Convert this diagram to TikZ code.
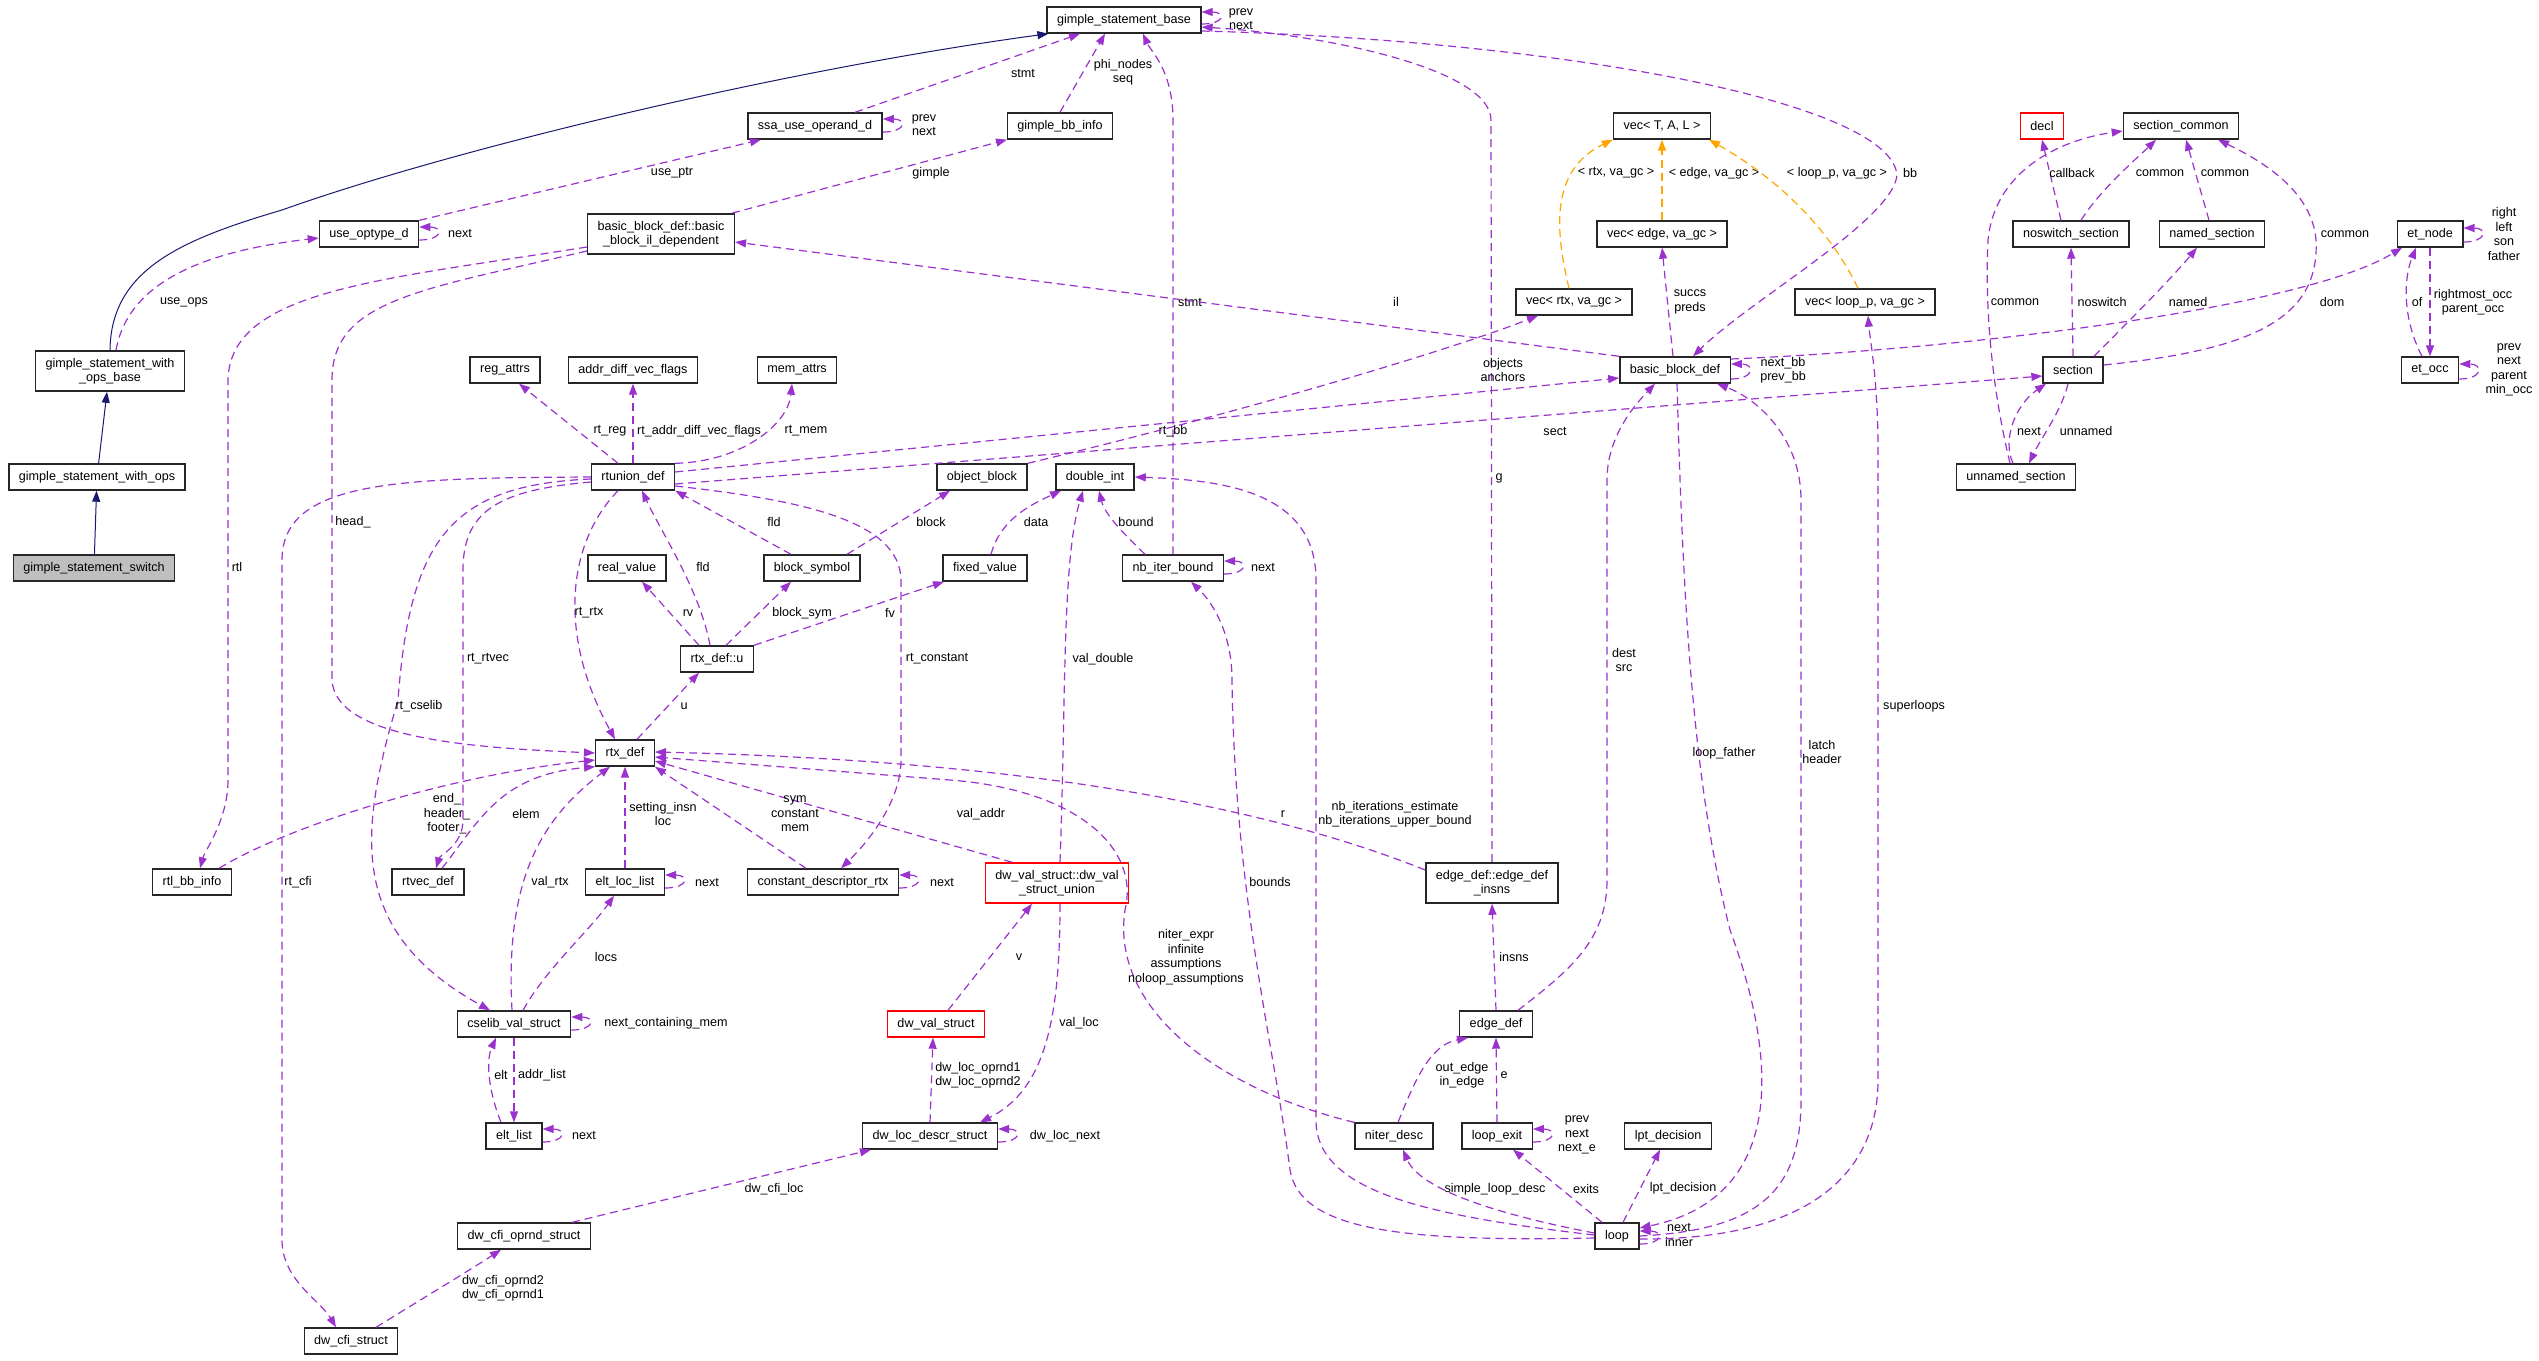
\documentclass[tikz,border=0pt]{standalone}
\usepackage{fontspec}
\setmainfont{Liberation Sans}
\usetikzlibrary{arrows.meta}
\definecolor{usecol}{HTML}{9A32CD}
\definecolor{inhcol}{HTML}{191970}
\definecolor{tmplcol}{HTML}{FFA500}
\definecolor{curcol}{HTML}{BFBFBF}
\newcommand{\graphfont}{\fontsize{12.6}{14.5}\selectfont}

\begin{document}
\begin{tikzpicture}[x=1pt,y=-1pt,>={Triangle[length=11pt,width=8pt]},
    classbox/.style={draw=black!85, line width=1.4pt, fill=white, font=\graphfont, align=center, inner xsep=10pt, inner ysep=7pt, minimum height=26pt},
    nodoc/.style={draw=red},
    usage/.style={->, draw=usecol, line width=1.2pt, dash pattern=on 8pt off 5pt},
    inh/.style={->, draw=inhcol, line width=1pt},
    tmpl/.style={->, draw=tmplcol, line width=1.2pt, dash pattern=on 8pt off 5pt},
    lbl/.style={font=\graphfont, align=center, inner sep=0pt},
    selfloop/.style={out=0, in=0, distance=24pt}]
        \useasboundingbox (0,0) rectangle (2539,1360);

        \node[classbox] (stmtbase) at (1124,20) {gimple\_statement\_base};
        \node[classbox] (ssause) at (815,126) {ssa\_use\_operand\_d};
        \node[classbox] (bbinfo) at (1060,126) {gimple\_bb\_info};
        \node[classbox] (vectal) at (1662,126) {vec< T, A, L >};
        \node[classbox, nodoc] (decl) at (2042,126) {decl};
        \node[classbox] (seccommon) at (2181,126) {section\_common};
        \node[classbox] (useop) at (369,234) {use\_optype\_d};
        \node[classbox] (bbil) at (661,234) {basic\_block\_def::basic\\\_block\_il\_dependent};
        \node[classbox] (vecedge) at (1662,234) {vec< edge, va\_gc >};
        \node[classbox] (noswitch) at (2071,234) {noswitch\_section};
        \node[classbox] (named) at (2212,234) {named\_section};
        \node[classbox] (etnode) at (2430,234) {et\_node};
        \node[classbox] (vecrtx) at (1574,302) {vec< rtx, va\_gc >};
        \node[classbox] (veclp) at (1865,302) {vec< loop\_p, va\_gc >};
        \node[classbox] (opsbase) at (110,371) {gimple\_statement\_with\\\_ops\_base};
        \node[classbox] (regattrs) at (505,370) {reg\_attrs};
        \node[classbox] (addrdiff) at (633,370) {addr\_diff\_vec\_flags};
        \node[classbox] (memattrs) at (797,370) {mem\_attrs};
        \node[classbox] (bbdef) at (1675,370) {basic\_block\_def};
        \node[classbox] (section) at (2073,370) {section};
        \node[classbox] (etocc) at (2430,370) {et\_occ};
        \node[classbox] (withops) at (97,477) {gimple\_statement\_with\_ops};
        \node[classbox] (rtunion) at (633,477) {rtunion\_def};
        \node[classbox] (objblock) at (982,477) {object\_block};
        \node[classbox] (dint) at (1095,477) {double\_int};
        \node[classbox] (unnamed) at (2016,477) {unnamed\_section};
        \node[classbox, fill=curcol] (switch) at (94,568) {gimple\_statement\_switch};
        \node[classbox] (realval) at (627,568) {real\_value};
        \node[classbox] (blocksym) at (812,568) {block\_symbol};
        \node[classbox] (fixedval) at (985,568) {fixed\_value};
        \node[classbox] (nbiter) at (1173,568) {nb\_iter\_bound};
        \node[classbox] (rtxu) at (717,659) {rtx\_def::u};
        \node[classbox] (rtx) at (625,753) {rtx\_def};
        \node[classbox] (rtlbb) at (192,882) {rtl\_bb\_info};
        \node[classbox] (rtvec) at (428,882) {rtvec\_def};
        \node[classbox] (eltloc) at (625,882) {elt\_loc\_list};
        \node[classbox] (cdr) at (823,882) {constant\_descriptor\_rtx};
        \node[classbox, nodoc] (dwunion) at (1057,883) {dw\_val\_struct::dw\_val\\\_struct\_union};
        \node[classbox] (edgeinsns) at (1492,883) {edge\_def::edge\_def\\\_insns};
        \node[classbox] (cselib) at (514,1024) {cselib\_val\_struct};
        \node[classbox, nodoc] (dwval) at (936,1024) {dw\_val\_struct};
        \node[classbox] (edgedef) at (1496,1024) {edge\_def};
        \node[classbox] (eltlist) at (514,1136) {elt\_list};
        \node[classbox] (dwloc) at (930,1136) {dw\_loc\_descr\_struct};
        \node[classbox] (niter) at (1394,1136) {niter\_desc};
        \node[classbox] (loopexit) at (1497,1136) {loop\_exit};
        \node[classbox] (lpt) at (1668,1136) {lpt\_decision};
        \node[classbox] (cfioprnd) at (524,1236) {dw\_cfi\_oprnd\_struct};
        \node[classbox] (loop) at (1617,1236) {loop};
        \node[classbox] (cfi) at (351,1341) {dw\_cfi\_struct};

        \draw[inh] (switch) -- (withops);
        \draw[inh] (withops) -- ([xshift=-3pt]opsbase.south);
        \draw[inh] (opsbase.north) .. controls (111,270) and (180,240) .. (282,210) .. controls (450,150) and (780,70) .. ([xshift=2pt]stmtbase.south west);

        \draw[usage] ([yshift=-4pt]stmtbase.east) to[selfloop] ([yshift=8pt]stmtbase.east) node[lbl] at (1241,19) {prev\\next};
        \draw[usage] ([yshift=-6pt]ssause.east) to[selfloop] ([yshift=7pt]ssause.east) node[lbl] at (924,125) {prev\\next};
        \draw[usage] ([xshift=40pt]ssause.north) -- ([xshift=-44pt]stmtbase.south) node[lbl] at (1023,73) {stmt};
        \draw[usage] (bbinfo.north) -- ([xshift=-19pt]stmtbase.south) node[lbl] at (1123,72) {phi\_nodes\\seq};
        \draw[usage] (nbiter.north) -- (1173,120) .. controls (1173,70) and (1150,50) .. ([xshift=19pt]stmtbase.south) node[lbl] at (1190,302) {stmt};
        \draw[usage] (edgeinsns.north) -- (1491,120) .. controls (1491,70) and (1330,35) .. ([yshift=-7pt]stmtbase.east) node[lbl] at (1499,478) {g};
        \draw[usage] ([yshift=-11pt]stmtbase.east) .. controls (1550,40) and (1890,100) .. (1897,175) .. controls (1893,220) and (1750,300) .. ([xshift=18pt]bbdef.north) node[lbl] at (1910,173) {bb};
        \draw[usage] ([yshift=-6pt]useop.east) to[selfloop] ([yshift=7pt]useop.east) node[lbl] at (460,233) {next};
        \draw[usage] (useop.north east) -- ([xshift=-54pt]ssause.south) node[lbl] at (672,173) {use\_ptr};
        \draw[usage] ([xshift=6pt]opsbase.north) .. controls (125,300) and (170,255) .. ([yshift=-4pt]useop.west) node[lbl] at (184,302) {use\_ops};
        \draw[usage] ([xshift=71pt]bbil.north) -- ([xshift=-53pt]bbinfo.south) node[lbl] at (931,173) {gimple};
        \draw[usage] (bbdef.north west) -- ([yshift=-8pt]bbil.east) node[lbl] at (1396,302) {il};
        \draw[usage] ([yshift=-13pt]bbil.west) .. controls (380,280) and (230,290) .. (228,380) -- (228,780) .. controls (228,820) and (205,850) .. ([xshift=8pt]rtlbb.north) node[lbl] at (237,567) {rtl};
        \draw[usage] ([yshift=-17pt]bbil.west) .. controls (420,290) and (332,300) .. (332,380) -- (332,680) .. controls (335,740) and (480,748) .. (rtx.west) node[lbl] at (353,522) {head\_};
        \draw[usage] ([xshift=27pt]rtlbb.north) .. controls (290,825) and (450,775) .. ([yshift=-7pt]rtx.west) node[lbl] at (447,814) {end\_\\header\_\\footer\_};

        \draw[usage] ([xshift=-15pt]rtunion.north) -- ([xshift=14pt]regattrs.south) node[lbl] at (610,431) {rt\_reg};
        \draw[usage] (rtunion.north) -- (addrdiff.south) node[lbl] at (699,431) {rt\_addr\_diff\_vec\_flags};
        \draw[usage] (rtunion.north east) .. controls (740,462) and (788,425) .. ([xshift=-5pt]memattrs.south) node[lbl] at (806,431) {rt\_mem};
        \draw[usage] ([yshift=5pt]rtunion.east) -- ([yshift=-8pt]bbdef.west) node[lbl] at (1173,431) {rt\_bb};
        \draw[usage] ([yshift=-7pt]rtunion.east) -- ([yshift=-6pt]section.west) node[lbl] at (1555,431) {sect};
        \draw[usage] ([xshift=-15pt]rtunion.south) .. controls (570,540) and (555,630) .. ([xshift=-10pt]rtx.north) node[lbl] at (589,613) {rt\_rtx};
        \draw[usage] ([yshift=-5pt]rtunion.west) .. controls (500,490) and (463,510) .. (463,570) -- (463,820) .. controls (463,845) and (440,855) .. ([xshift=8pt]rtvec.north) node[lbl] at (488,659) {rt\_rtvec};
        \draw[usage] ([yshift=-2pt]rtunion.west) .. controls (450,485) and (410,540) .. (398,700) .. controls (360,830) and (345,930) .. ([xshift=-24pt]cselib.north) node[lbl] at (419,706) {rt\_cselib};
        \draw[usage] (rtunion.west) .. controls (400,478) and (282,480) .. (282,560) -- (282,1240) .. controls (282,1280) and (320,1300) .. ([xshift=-15pt]cfi.north) node[lbl] at (298,882) {rt\_cfi};
        \draw[usage] ([yshift=-9pt]rtunion.east) .. controls (800,500) and (900,520) .. (901,580) -- (901,760) .. controls (901,800) and (870,840) .. ([xshift=18pt]cdr.north) node[lbl] at (937,659) {rt\_constant};

        \draw[usage] ([xshift=-7pt]rtxu.north) .. controls (700,590) and (660,530) .. ([xshift=9pt]rtunion.south) node[lbl] at (703,567) {fld};
        \draw[usage] ([xshift=-21pt]blocksym.north) -- (rtunion.south east) node[lbl] at (774,522) {fld};
        \draw[usage] ([xshift=-18pt]rtxu.north) -- ([xshift=15pt]realval.south) node[lbl] at (688,613) {rv};
        \draw[usage] ([xshift=9pt]rtxu.north) -- ([xshift=-21pt]blocksym.south) node[lbl] at (802,613) {block\_sym};
        \draw[usage] (rtxu.north east) -- ([xshift=-41pt]fixedval.south) node[lbl] at (890,613) {fv};
        \draw[usage] ([xshift=35pt]blocksym.north) -- ([xshift=-32pt]objblock.south) node[lbl] at (931,522) {block};
        \draw[usage] ([xshift=6pt]fixedval.north) .. controls (1000,520) and (1030,505) .. ([xshift=-34pt]dint.south) node[lbl] at (1036,522) {data};
        \draw[usage] ([xshift=-28pt]nbiter.north) .. controls (1125,535) and (1105,515) .. ([xshift=4pt]dint.south) node[lbl] at (1136,522) {bound};
        \draw[usage] ([yshift=-6pt]nbiter.east) to[selfloop] ([yshift=7pt]nbiter.east) node[lbl] at (1263,567) {next};
        \draw[usage] ([xshift=12pt]rtx.north) -- ([xshift=-18pt]rtxu.south) node[lbl] at (684,706) {u};
        \draw[usage] (objblock.north east) .. controls (1250,410) and (1450,350) .. ([xshift=-36pt]vecrtx.south) node[lbl] at (1503,370) {objects\\anchors};

        \draw[tmpl] ([xshift=-5pt]vecrtx.north) .. controls (1555,230) and (1550,170) .. (vectal.south west) node[lbl] at (1616,173) {< rtx, va\_gc >};
        \draw[tmpl] (vecedge.north) -- (vectal.south) node[lbl] at (1714,173) {< edge, va\_gc >};
        \draw[tmpl] ([xshift=-7pt]veclp.north) .. controls (1830,230) and (1780,180) .. ([xshift=47pt]vectal.south) node[lbl] at (1837,173) {< loop\_p, va\_gc >};

        \draw[usage] ([xshift=-2pt]bbdef.north) -- (vecedge.south) node[lbl] at (1690,302) {succs\\preds};
        \draw[usage] ([yshift=-9pt]bbdef.east) to[selfloop] ([yshift=6pt]bbdef.east) node[lbl] at (1783,370) {next\_bb\\prev\_bb};
        \draw[usage] ([yshift=11pt]bbdef.east) .. controls (1950,350) and (2300,310) .. ([xshift=-28pt]etnode.south) node[lbl] at (2332,302) {dom};
        \draw[usage] ([xshift=2pt]bbdef.south) .. controls (1683,600) and (1692,780) .. (1730,930) .. controls (1785,1080) and (1775,1200) .. ([yshift=8pt]loop.east) node[lbl] at (1724,753) {loop\_father};
        \draw[usage] (loop.east) .. controls (1760,1230) and (1801,1190) .. (1801,1100) -- (1801,500) .. controls (1801,440) and (1760,400) .. ([xshift=42pt]bbdef.south) node[lbl] at (1822,752) {latch\\header};
        \draw[usage] ([yshift=-3pt]loop.east) .. controls (1800,1240) and (1878,1180) .. (1878,1080) -- (1878,450) .. controls (1878,380) and (1870,340) .. ([xshift=3pt]veclp.south) node[lbl] at (1914,706) {superloops};
        \draw[usage] ([yshift=-8pt]loop.east) to[selfloop] ([yshift=5pt]loop.east) node[lbl] at (1679,1235) {next\\inner};
        \draw[usage] ([xshift=6pt]loop.north) -- ([xshift=-8pt]lpt.south) node[lbl] at (1683,1188) {lpt\_decision};
        \draw[usage] ([xshift=-15pt]loop.north) -- ([xshift=16pt]loopexit.south) node[lbl] at (1586,1189) {exits};
        \draw[usage] ([yshift=3pt]loop.west) .. controls (1500,1215) and (1420,1190) .. ([xshift=9pt]niter.south) node[lbl] at (1495,1189) {simple\_loop\_desc};
        \draw[usage] ([yshift=-2pt]loop.west) .. controls (1400,1242) and (1300,1230) .. (1290,1170) .. controls (1275,1050) and (1235,900) .. (1232,680) .. controls (1232,630) and (1210,600) .. ([xshift=18pt]nbiter.south) node[lbl] at (1270,882) {bounds};
        \draw[usage] ([yshift=1pt]loop.west) .. controls (1420,1215) and (1316,1190) .. (1316,1120) -- (1316,580) .. controls (1316,490) and (1220,480) .. (dint.east) node[lbl] at (1395,814) {nb\_iterations\_estimate\\nb\_iterations\_upper\_bound};
        \draw[usage] ([yshift=-6pt]loopexit.east) to[selfloop] ([yshift=7pt]loopexit.east) node[lbl] at (1577,1135) {prev\\next\\next\_e};
        \draw[usage] (loopexit.north) -- (edgedef.south) node[lbl] at (1504,1075) {e};
        \draw[usage] ([xshift=4pt]niter.north) .. controls (1415,1080) and (1430,1045) .. ([xshift=-28pt]edgedef.south) node[lbl] at (1462,1075) {out\_edge\\in\_edge};
        \draw[usage] (niter.north west) .. controls (1220,1090) and (1110,1010) .. (1125,910) .. controls (1140,850) and (1080,790) .. (950,780) -- ([yshift=-4pt]rtx.east) node[lbl] at (1186,957) {niter\_expr\\infinite\\assumptions\\noloop\_assumptions};
        \draw[usage] ([yshift=13pt]edgeinsns.west) .. controls (1250,800) and (1000,760) .. ([yshift=1pt]rtx.east) node[lbl] at (1283,814) {r};
        \draw[usage] ([xshift=22pt]edgedef.north) .. controls (1570,970) and (1607,940) .. (1607,880) -- (1607,480) .. controls (1607,440) and (1630,410) .. ([xshift=-20pt]bbdef.south) node[lbl] at (1624,660) {dest\\src};
        \draw[usage] (edgedef.north) -- (edgeinsns.south) node[lbl] at (1514,957) {insns};

        \draw[usage] ([xshift=-45pt]dwunion.north) -- ([yshift=-8pt]rtx.east) node[lbl] at (981,814) {val\_addr};
        \draw[usage] ([xshift=3pt]dwunion.north) .. controls (1066,700) and (1062,560) .. ([xshift=-12pt]dint.south) node[lbl] at (1103,659) {val\_double};
        \draw[usage] ([xshift=3pt]dwunion.south) .. controls (1060,1020) and (1045,1090) .. ([xshift=50pt]dwloc.north) node[lbl] at (1079,1023) {val\_loc};
        \draw[usage] ([xshift=12pt]dwval.north) -- ([xshift=-25pt]dwunion.south) node[lbl] at (1019,957) {v};
        \draw[usage] (dwloc.north) -- ([xshift=-3pt]dwval.south) node[lbl] at (978,1075) {dw\_loc\_oprnd1\\dw\_loc\_oprnd2};
        \draw[usage] ([yshift=-6pt]dwloc.east) to[selfloop] ([yshift=7pt]dwloc.east) node[lbl] at (1065,1136) {dw\_loc\_next};
        \draw[usage] ([xshift=48pt]cfioprnd.north) -- ([xshift=-59pt]dwloc.south) node[lbl] at (774,1189) {dw\_cfi\_loc};
        \draw[usage] ([xshift=25pt]cfi.north) .. controls (420,1300) and (470,1270) .. ([xshift=-23pt]cfioprnd.south) node[lbl] at (503,1288) {dw\_cfi\_oprnd2\\dw\_cfi\_oprnd1};

        \draw[usage] ([xshift=-17pt]cdr.north) -- (rtx.south east) node[lbl] at (795,814) {sym\\constant\\mem};
        \draw[usage] ([yshift=-6pt]cdr.east) to[selfloop] ([yshift=7pt]cdr.east) node[lbl] at (942,882) {next};
        \draw[usage] (eltloc.north) -- (rtx.south) node[lbl] at (663,814) {setting\_insn\\loc};
        \draw[usage] ([yshift=-6pt]eltloc.east) to[selfloop] ([yshift=7pt]eltloc.east) node[lbl] at (707,882) {next};
        \draw[usage] ([xshift=9pt]cselib.north) .. controls (545,970) and (590,930) .. ([xshift=-11pt]eltloc.south) node[lbl] at (606,957) {locs};
        \draw[usage] ([xshift=-2pt]cselib.north) .. controls (505,880) and (540,820) .. ([xshift=-15pt]rtx.south) node[lbl] at (550,882) {val\_rtx};
        \draw[usage] ([yshift=-6pt]cselib.east) to[selfloop] ([yshift=7pt]cselib.east) node[lbl] at (666,1023) {next\_containing\_mem};
        \draw[usage] (cselib.south) -- (eltlist.north) node[lbl] at (542,1075) {addr\_list};
        \draw[usage] ([xshift=-13pt]eltlist.north) .. controls (488,1090) and (486,1060) .. ([xshift=-18pt]cselib.south) node[lbl] at (501,1075) {elt};
        \draw[usage] ([yshift=-6pt]eltlist.east) to[selfloop] ([yshift=7pt]eltlist.east) node[lbl] at (584,1135) {next};
        \draw[usage] ([xshift=14pt]rtvec.north) .. controls (480,820) and (500,775) .. (rtx.south west) node[lbl] at (526,814) {elem};

        \draw[usage] ([yshift=5pt]section.east) .. controls (2250,350) and (2320,320) .. (2316,240) .. controls (2312,190) and (2260,160) .. ([xshift=37pt]seccommon.south) node[lbl] at (2345,234) {common};
        \draw[usage] ([xshift=10pt]noswitch.north) .. controls (2100,190) and (2135,160) .. ([xshift=-25pt]seccommon.south) node[lbl] at (2160,173) {common};
        \draw[usage] ([xshift=-3pt]named.north) -- ([xshift=5pt]seccommon.south) node[lbl] at (2225,173) {common};
        \draw[usage] ([xshift=-10pt]noswitch.north) -- (decl.south) node[lbl] at (2072,173) {callback};
        \draw[usage] ([xshift=-6pt]unnamed.north) .. controls (1990,380) and (1985,300) .. (1988,240) .. controls (1995,170) and (2060,140) .. ([yshift=-5pt]seccommon.west) node[lbl] at (2015,302) {common};
        \draw[usage] (section.north) -- (noswitch.south) node[lbl] at (2102,302) {noswitch};
        \draw[usage] ([xshift=21pt]section.north) .. controls (2130,320) and (2170,280) .. ([xshift=-15pt]named.south) node[lbl] at (2188,302) {named};
        \draw[usage] ([xshift=-5pt]section.south) .. controls (2062,410) and (2040,440) .. ([xshift=13pt]unnamed.north) node[lbl] at (2086,431) {unnamed};
        \draw[usage] ([xshift=-3pt]unnamed.north) .. controls (2002,440) and (2015,405) .. ([xshift=-27pt]section.south) node[lbl] at (2029,431) {next};
        \draw[usage] ([yshift=-8pt]etnode.east) to[selfloop] ([yshift=6pt]etnode.east) node[lbl] at (2504,234) {right\\left\\son\\father};
        \draw[usage] (etnode.south) -- (etocc.north) node[lbl] at (2473,302) {rightmost\_occ\\parent\_occ};
        \draw[usage] ([xshift=-8pt]etocc.north) .. controls (2403,320) and (2403,280) .. ([xshift=-14pt]etnode.south) node[lbl] at (2417,302) {of};
        \draw[usage] ([yshift=-9pt]etocc.east) to[selfloop] ([yshift=6pt]etocc.east) node[lbl] at (2509,370) {prev\\next\\parent\\min\_occ};
    \end{tikzpicture}
\end{document}
